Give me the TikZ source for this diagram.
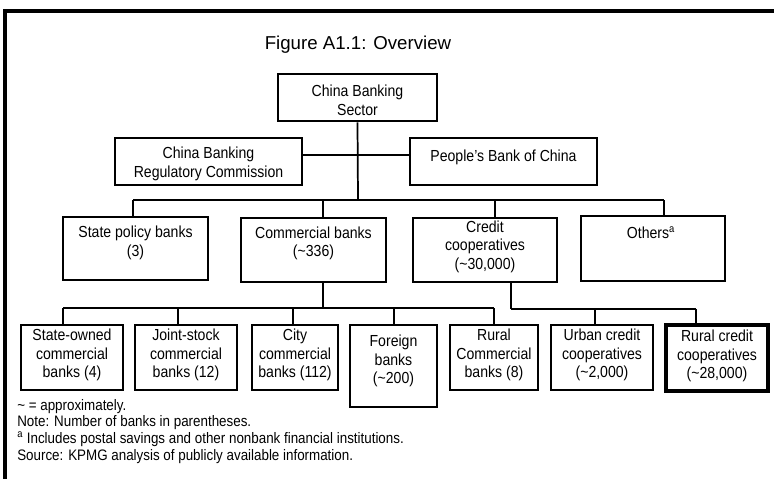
\documentclass[tikz,border=0pt]{standalone}
\usepackage{fontspec}
\setmainfont{Liberation Sans}[FakeStretch=0.88]
\newfontfamily\titlefont{Liberation Sans}
\usetikzlibrary{fit}
\begin{document}
\begin{tikzpicture}[x=0.75pt,y=-0.75pt,
  box/.style={draw, line width=2.2pt, inner sep=0pt},
  txt/.style={align=center, inner sep=0pt, font=\fontsize{12}{13.9}\selectfont},
  thinline/.style={line width=1.3pt},
  thickline/.style={line width=2.2pt},
  note/.style={anchor=base west, inner sep=0pt, font=\fontsize{11.4}{13}\selectfont}]
\useasboundingbox (0,0) rectangle (774,479);
% frame
\draw[line width=3pt] (774,11) -- (5,11) -- (5,479);
% title
\node[font=\titlefont\fontsize{14}{16}\selectfont, inner sep=0pt] (title) at (358,45) {Figure A1.1: Overview};
% level 1 and 2
\node[box, fit={(278,74) (437,121)}] (cs) {};
\node[txt] (cs-t) at (357.5,100.5) {China Banking\\Sector};
\node[box, fit={(115,138) (302,185)}] (cbrc) {};
\node[txt] (cbrc-t) at (208.5,164) {China Banking\\Regulatory Commission};
\node[box, fit={(410,138) (597,185)}] (pbc) {};
\node[txt] (pbc-t) at (503.5,157) {People’s Bank of China};
% level 3
\node[box, fit={(63,217) (208,280)}] (sp) {};
\node[txt] (sp-t) at (135.5,243) {State policy banks\\(3)};
\node[box, fit={(241,218) (386,282)}] (cb) {};
\node[txt] (cb-t) at (313.5,243.5) {Commercial banks\\(\textasciitilde336)};
\node[box, fit={(413,218) (557,282)}] (cc) {};
\node[txt] (cc-t) at (485,246.5) {Credit\\cooperatives\\(\textasciitilde30,000)};
\node[box, fit={(581,216) (725,281)}] (ot) {};
\node[txt] (ot-t) at (651,233) {Others\textsuperscript{a}};
% level 4
\node[box, fit={(21,325) (123,390)}] (so) {};
\node[txt] (so-t) at (72,355) {State-owned\\commercial\\banks (4)};
\node[box, fit={(135,325) (237,390)}] (js) {};
\node[txt] (js-t) at (186,355) {Joint-stock\\commercial\\banks (12)};
\node[box, fit={(252,325) (338,390)}] (ci) {};
\node[txt] (ci-t) at (295,355) {City\\commercial\\banks (112)};
\node[box, fit={(350,325) (437,407)}] (fo) {};
\node[txt] (fo-t) at (393.5,361) {Foreign\\banks\\(\textasciitilde200)};
\node[box, fit={(450,325) (538,390)}] (rc) {};
\node[txt] (rc-t) at (494,355) {Rural\\Commercial\\banks (8)};
\node[box, fit={(551,325) (653,390)}] (uc) {};
\node[txt] (uc-t) at (602,355) {Urban credit\\cooperatives\\(\textasciitilde2,000)};
\node[box, line width=3pt, fit={(666,325) (768,391)}] (rcc) {};
\node[txt] (rcc-t) at (717,356) {Rural credit\\cooperatives\\(\textasciitilde28,000)};
% connectors level 1-3
\coordinate (j1) at (358,155);
\coordinate (b3) at (358,200);
\draw[thickline] (cbrc.east |- j1) -- (pbc.west |- j1);
\draw[thinline] (cs.south) -- (b3);
\coordinate (d-sp) at (133,200);
\coordinate (d-cb) at (323,200);
\coordinate (d-cc) at (495,200);
\coordinate (d-ot) at (664,200);
\draw[thickline] (d-sp) -- (d-ot);
\draw[thinline] (d-sp) -- (d-sp |- sp.north);
\draw[thickline] (d-cb) -- (d-cb |- cb.north);
\draw[thinline] (d-cc) -- (d-cc |- cc.north);
\draw[thickline] (d-ot) -- (d-ot |- ot.north);
% commercial banks branch
\coordinate (b4) at (323,308);
\coordinate (d-so) at (63,308);
\coordinate (d-js) at (178,308);
\coordinate (d-ci) at (293,308);
\coordinate (d-fo) at (394,308);
\coordinate (d-rc) at (494,308);
\draw[thickline] (cb.south -| b4) -- (b4);
\draw[thinline] (d-so) -- (d-rc);
\draw[thinline] (d-so) -- (d-so |- so.north);
\draw[thinline] (d-js) -- (d-js |- js.north);
\draw[thinline] (d-ci) -- (d-ci |- ci.north);
\draw[thinline] (d-fo) -- (d-fo |- fo.north);
\draw[thinline] (d-rc) -- (d-rc |- rc.north);
% credit cooperatives branch
\coordinate (b5) at (511,309);
\coordinate (d-uc) at (595,309);
\coordinate (d-rcc) at (696,309);
\draw[thickline] (cc.south -| b5) -- (b5);
\draw[thickline] (b5) -- (d-rcc);
\draw[thinline] (d-uc) -- (d-uc |- uc.north);
\draw[thinline] (d-rcc) -- (d-rcc |- rcc.north);
% notes
\node[note] (n1) at (17,410) {\textasciitilde{} = approximately.};
\node[note] (n2) at (17,426) {Note: Number of banks in parentheses.};
\node[note] (n3) at (17,443) {\textsuperscript{a} Includes postal savings and other nonbank financial institutions.};
\node[note] (n4) at (17,460) {Source: KPMG analysis of publicly available information.};
\end{tikzpicture}
\end{document}
